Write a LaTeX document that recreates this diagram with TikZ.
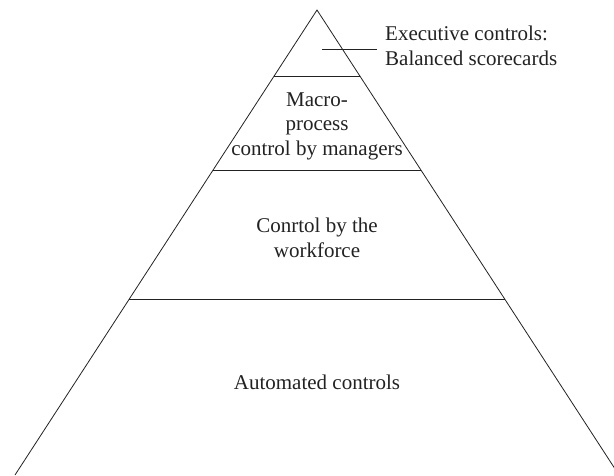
\documentclass[tikz,border=0pt]{standalone}
\usepackage{fontspec}
\setmainfont{Liberation Serif}
\usetikzlibrary{calc}
\definecolor{ink}{HTML}{222222}
\begin{document}
\begin{tikzpicture}[x=1pt,y=-1pt,
  edge/.style={draw=ink,line width=0.8pt},
  lbl/.style={inner sep=0pt,text=ink,align=center,font=\fontsize{21}{24.5}\selectfont}]
\useasboundingbox (0,0) rectangle (614,475);
% outline of the pyramid
\coordinate (apex) at (317,10);
\coordinate (bl) at (15,475);
\coordinate (br) at (619,475);
\draw[edge] (bl) -- (apex) -- (br);
% tier boundaries
\coordinate (l1) at (274.1,76);  \coordinate (r1) at (359.9,76);
\coordinate (l2) at (213,170);   \coordinate (r2) at (421,170);
\coordinate (l3) at (129.2,299); \coordinate (r3) at (504.8,299);
\draw[edge] (l1) -- (r1);
\draw[edge] (l2) -- (r2);
\draw[edge] (l3) -- (r3);
% tier labels
\node[lbl] (macro) at (317,126) {Macro-\\process\\control by managers};
\node[lbl] (work) at (317,238) {Conrtol by the\\workforce};
\node[lbl] (auto) at (317,382) {Automated controls};
\node[lbl,align=left,anchor=west] (exec) at (385,46) {Executive controls:\\Balanced scorecards};
% leader to the top tier
\coordinate (lead) at (322,49);
\draw[edge,shorten >=8pt] (lead) -- (lead -| exec.west);
\end{tikzpicture}
\end{document}
